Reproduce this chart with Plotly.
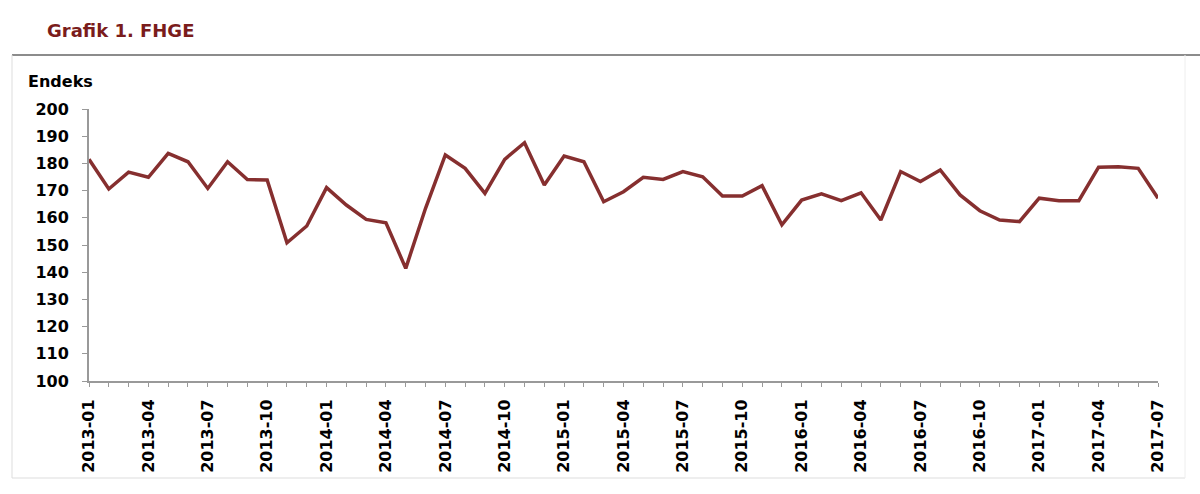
import plotly.graph_objects as go

months = [f"{y}-{m:02d}" for y in range(2013, 2018) for m in range(1, 13)][:55]
values = [
    181.5, 170.6, 176.8, 174.9, 183.7, 180.6, 170.8, 180.6, 174.1, 173.9, 150.8, 157.0,
    171.1, 164.7, 159.4, 158.2, 141.4, 163.5, 183.1, 178.2, 169.0, 181.5, 187.6, 172.1,
    182.7, 180.6, 165.9, 169.6, 174.9, 174.1, 177.0, 175.1, 168.0, 168.0, 171.8, 157.4,
    166.5, 168.8, 166.3, 169.2, 159.2, 177.0, 173.3, 177.6, 168.4, 162.6, 159.2, 158.6,
    167.2, 166.3, 166.3, 178.6, 178.8, 178.2, 167.2,
]
tick_labels = [m if i % 3 == 0 else "" for i, m in enumerate(months)]
y_ticks = list(range(100, 201, 10))

W, H = 1200, 494
L, R, T, B = 89, 1158, 109, 381

def px(x):
    return (x - L) / (R - L)

def py(y):
    return (B - y) / (B - T)

fig = go.Figure()
fig.add_trace(go.Scatter(
    x=months, y=values, mode="lines",
    line=dict(color="#862f2f", width=3.5),
    cliponaxis=False, showlegend=False,
))

font_family = "DejaVu Sans"
fig.update_layout(
    width=W, height=H,
    margin=dict(l=L, r=W - R, t=T, b=H - B, pad=0),
    paper_bgcolor="white", plot_bgcolor="white",
    font=dict(family=font_family, size=16, color="black"),
    xaxis=dict(
        type="category", range=[0, len(months) - 1],
        tickmode="array", tickvals=months, ticktext=tick_labels,
        tickangle=-90, ticks="outside", ticklen=4, tickcolor="#999999",
        showline=True, linecolor="#999999", linewidth=2,
        showgrid=False, zeroline=False,
        tickfont=dict(family=font_family, size=16, color="black", weight="bold"),
        ticklabelstandoff=6,
    ),
    yaxis=dict(
        range=[100, 200], tickmode="array", tickvals=y_ticks,
        ticks="outside", ticklen=5, tickcolor="#999999",
        showline=True, linecolor="#999999", linewidth=2,
        showgrid=False, zeroline=False,
        tickfont=dict(family=font_family, size=16, color="black", weight="bold"),
        ticklabelstandoff=10,
    ),
    annotations=[
        dict(text="<b>Grafik 1. FHGE</b>", xref="paper", yref="paper",
             x=px(45), y=py(31), xanchor="left", yanchor="middle", showarrow=False,
             font=dict(family=font_family, size=18, color="#7a1c1c")),
        dict(text="<b>Endeks</b>", xref="paper", yref="paper",
             x=px(26), y=py(82), xanchor="left", yanchor="middle", showarrow=False,
             font=dict(family=font_family, size=16, color="black")),
    ],
    shapes=[
        dict(type="line", xref="paper", yref="paper", x0=px(12), x1=px(1200),
             y0=py(55), y1=py(55), line=dict(color="#8c8c8c", width=2)),
        dict(type="line", xref="paper", yref="paper", x0=px(12), x1=px(12),
             y0=py(55), y1=py(478), line=dict(color="#dddddd", width=1)),
        dict(type="line", xref="paper", yref="paper", x0=px(12), x1=px(1185),
             y0=py(478), y1=py(478), line=dict(color="#dddddd", width=1)),
        dict(type="line", xref="paper", yref="paper", x0=px(1185), x1=px(1185),
             y0=py(55), y1=py(478), line=dict(color="#eeeeee", width=1)),
    ],
)

fig.write_html("out.html")
